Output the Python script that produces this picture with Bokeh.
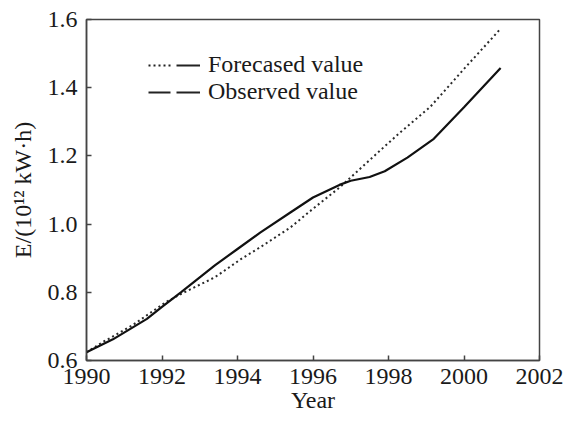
import math
from bokeh.plotting import figure
from bokeh.models import Range1d, FixedTicker, Legend, LegendItem
from bokeh.embed import file_html
from bokeh.resources import INLINE

# ---- data ----
x_ticks = [1990, 1992, 1994, 1996, 1998, 2000, 2002]
y_ticks = [0.6, 0.8, 1.0, 1.2, 1.4, 1.6]
y_tick_labels = ["0.6", "0.8", "1.0", "1.2", "1.4", "1.6"]

obs_year = [1990.0, 1990.7, 1991.6, 1992.0, 1992.5, 1993.4, 1994.0, 1994.6,
            1995.4, 1996.0, 1996.7, 1997.0, 1997.5, 1997.9, 1998.5, 1999.2,
            2000.0, 2000.97]
obs_val = [0.624, 0.662, 0.722, 0.757, 0.800, 0.879, 0.927, 0.975,
           1.034, 1.078, 1.115, 1.127, 1.138, 1.155, 1.195, 1.250,
           1.343, 1.458]

fc_year = [1990.0, 1990.4, 1991.2, 1992.1, 1992.5, 1993.4, 1994.1, 1994.6,
           1995.4, 1996.0, 1996.7, 1997.0, 1997.8, 1998.3, 1999.1, 2000.0,
           2000.97]
fc_val = [0.624, 0.652, 0.702, 0.771, 0.795, 0.844, 0.898, 0.932,
          0.990, 1.045, 1.107, 1.137, 1.218, 1.268, 1.343, 1.455,
          1.573]

legend_labels = ["Forecased value", "Observed value"]
x_title = "Year"
y_title = "E/(10\u00b9\u00b2 kW\u00b7h)"

FONT = "Liberation Serif"
FS = "24px"
AX = "#444444"
TXT = "#1a1a1a"

p = figure(frame_width=453, frame_height=341,
           x_range=Range1d(1990, 2002), y_range=Range1d(0.6, 1.6),
           output_backend="svg", toolbar_location=None,
           min_border_left=86, min_border_right=29,
           min_border_top=19, min_border_bottom=61)

p.grid.visible = False
p.outline_line_color = AX
p.outline_line_width = 1.5
p.background_fill_color = "white"
p.border_fill_color = "white"

for ax in (p.xaxis[0], p.yaxis[0]):
    ax.axis_line_color = AX
    ax.axis_line_width = 1.5
    ax.major_tick_line_color = AX
    ax.major_tick_line_width = 1.5
    ax.major_tick_in = 5
    ax.major_tick_out = 0
    ax.minor_tick_line_color = None
    ax.major_label_text_font = FONT
    ax.major_label_text_font_size = FS
    ax.major_label_text_color = TXT
    ax.axis_label_text_font = FONT
    ax.axis_label_text_font_size = FS
    ax.axis_label_text_font_style = "normal"
    ax.axis_label_text_color = TXT

p.xaxis[0].ticker = FixedTicker(ticks=x_ticks)
p.xaxis[0].major_label_standoff = 8
p.xaxis[0].axis_label = x_title
p.xaxis[0].axis_label_standoff = 0

p.yaxis[0].ticker = FixedTicker(ticks=y_ticks)
p.yaxis[0].major_label_overrides = {t: l for t, l in zip(y_ticks, y_tick_labels)}
p.yaxis[0].major_label_standoff = 9
p.yaxis[0].axis_label = y_title
p.yaxis[0].axis_label_standoff = 9

# lines
p.line(fc_year, fc_val, line_color="#2a2a2a", line_width=2, line_dash="2 3")
p.line(obs_year, obs_val, line_color="#111111", line_width=2.2)

# legend-only renderers (a single NaN point draws nothing in the plot)
nan = float("nan")
r_fc = p.line([nan], [nan], line_color="#222222", line_width=2,
              line_dash="2 3 2 3 2 3 2 3 2 6 24 20")
r_ob = p.line([nan], [nan], line_color="#222222", line_width=2,
              line_dash="22 6 24 20")
legend = Legend(items=[LegendItem(label=legend_labels[0], renderers=[r_fc]),
                       LegendItem(label=legend_labels[1], renderers=[r_ob])],
                location=(62, 255), padding=0, margin=0, spacing=-1,
                glyph_width=52, glyph_height=24, label_height=24,
                label_standoff=8, border_line_color=None,
                background_fill_alpha=0,
                label_text_font=FONT, label_text_font_size=FS,
                label_text_color=TXT)
p.add_layout(legend, "center")

open("out.html", "w").write(file_html(p, INLINE))
